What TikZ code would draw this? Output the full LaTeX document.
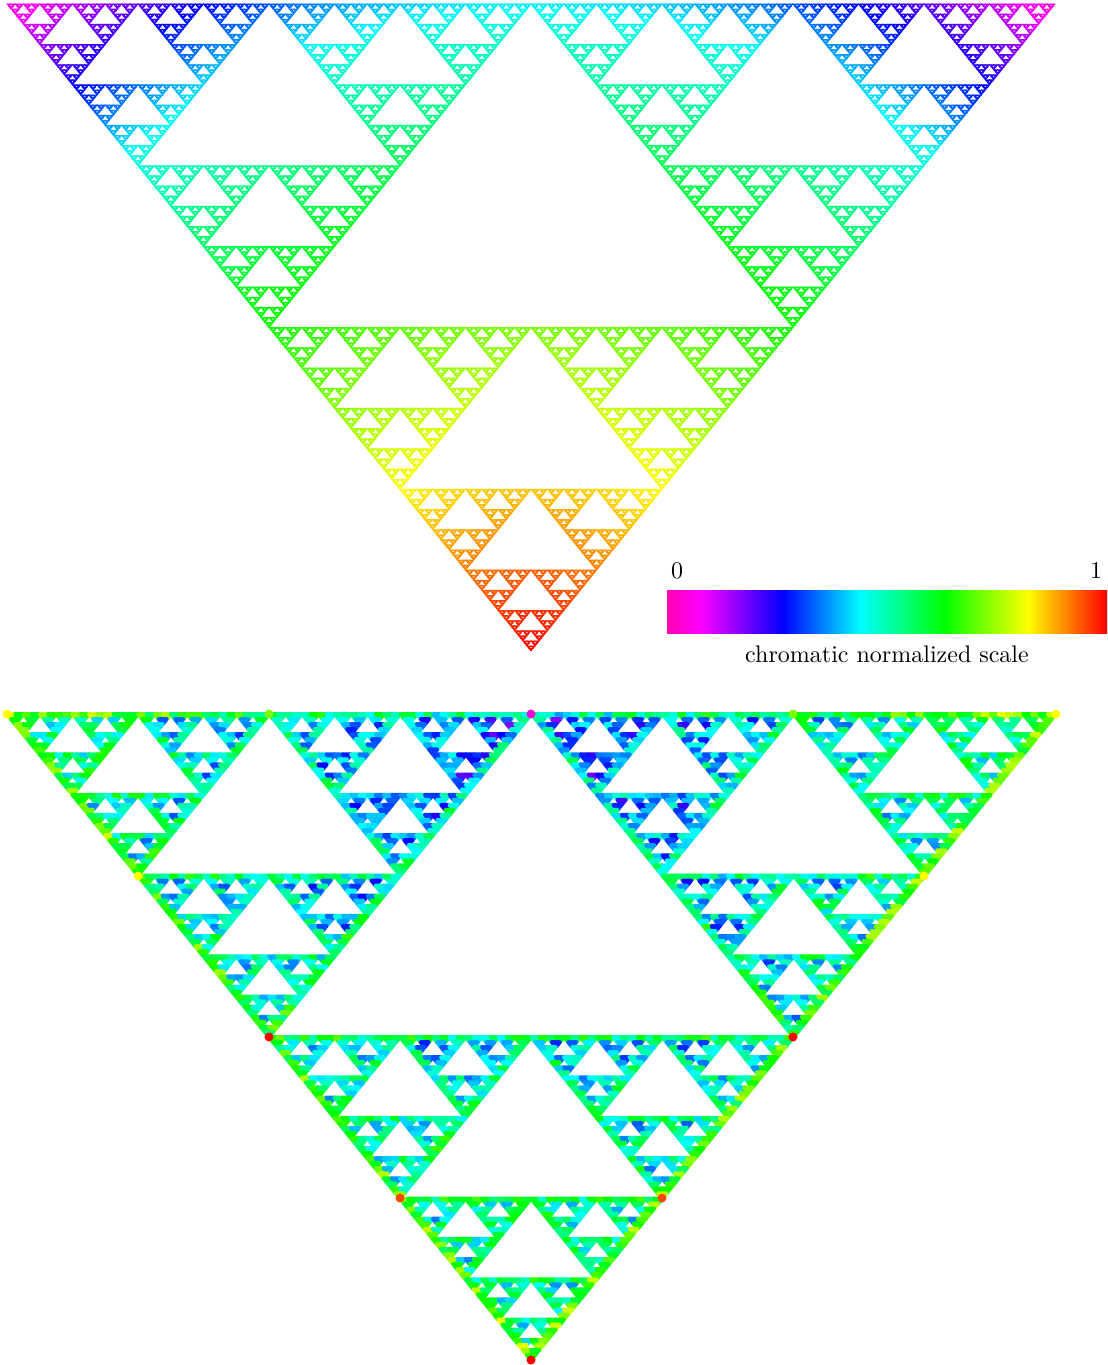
\documentclass[tikz,border=0pt]{standalone}
\usepackage{tikz}
\usetikzlibrary{positioning}
\usepackage{xcolor}

%% chromatic normalized colour map
\definecolor{chpink}{rgb}{1,0,0.7}
\pgfdeclarehorizontalshading{chroma}{100bp}{color(0bp)=(chpink); color(25bp)=(chpink);
  color(28.8bp)=(magenta); color(38.25bp)=(blue); color(47bp)=(cyan);
  color(56.5bp)=(green); color(66bp)=(yellow); color(75bp)=(red); color(100bp)=(red)}

\newcommand\setchroma[1]{%
  \pgfmathsetmacro\chR{max(min(1,max(0,1-(#1-0.076)/0.189)),min(1,max(0,(#1-0.63)/0.19)))}%
  \pgfmathsetmacro\chG{min(min(1,max(0,(#1-0.265)/0.175)),min(1,max(0,(1-#1)/0.18)))}%
  \pgfmathsetmacro\chB{min(min(1,max(0,0.7+0.3*#1/0.076)),min(1,max(0,1-(#1-0.44)/0.19)))}%
  \definecolor{cellcol}{rgb}{\chR,\chG,\chB}}

%% top gasket: one cell, coloured by distance to the lower tip
\newcommand\sierpcell[6]{%
  \pgfmathsetmacro\cx{(#1+#3+#5)/3}%
  \pgfmathsetmacro\cy{(#2+#4+#6)/3}%
  \pgfmathsetmacro\dd{sqrt(((\cx-531)/831)^2+((\cy-651)/831)^2)}%
  \pgfmathsetmacro\vv{\dd<0.25 ? 1-0.72*\dd : (\dd<0.5 ? 0.82-0.72*(\dd-0.25) : (\dd<0.76 ? 0.64-0.69*(\dd-0.5) : max(0,0.46-1.75*(\dd-0.76))))}%
  \setchroma{\vv}%
  \filldraw[cell] (#1,#2) -- (#3,#4) -- (#5,#6) -- cycle
    ({(#1+#3)/2},{(#2+#4)/2}) -- ({(#3+#5)/2},{(#4+#6)/2}) -- ({(#1+#5)/2},{(#2+#6)/2}) -- cycle;}

\newcommand\sierp[7]{%
  \ifnum#1=0 \sierpcell{#2}{#3}{#4}{#5}{#6}{#7}%
  \else
    \begingroup
      \pgfmathsetmacro\mAx{(#2+#4)/2}\pgfmathsetmacro\mAy{(#3+#5)/2}%
      \pgfmathsetmacro\mBx{(#4+#6)/2}\pgfmathsetmacro\mBy{(#5+#7)/2}%
      \pgfmathsetmacro\mCx{(#2+#6)/2}\pgfmathsetmacro\mCy{(#3+#7)/2}%
      \pgfmathtruncatemacro\lv{#1-1}%
      \edef\next{%
        \noexpand\sierp{\lv}{#2}{#3}{\mAx}{\mAy}{\mCx}{\mCy}%
        \noexpand\sierp{\lv}{\mAx}{\mAy}{#4}{#5}{\mBx}{\mBy}%
        \noexpand\sierp{\lv}{\mCx}{\mCy}{\mBx}{\mBy}{#6}{#7}}%
    \expandafter\endgroup\next
  \fi}

%% bottom gasket: solid cells, thickened, one colour per cell
\def\splitlev#1,#2,#3\relax{\def\la{#1}\def\lb{#2}\def\lc{#3}}

\newcommand\gcell[7]{%
  \begingroup
    \splitlev#7\relax
    \pgfmathsetmacro\sgu{((#1+#3+#5)/3-531)/524}%
    \pgfmathsetmacro\sgt{((#2+#4+#6)/3-714)/646}%
    \pgfmathsetmacro\sgv{min(1,max(0,0.23+0.04*(6-min(\la,\lb,\lc))+0.24*min(1,sqrt(\sgu*\sgu+\sgt*\sgt))+0.24*(rnd-0.5)))}%
    \setchroma{\sgv}%
    \filldraw[gcell] (#1,#2) -- (#3,#4) -- (#5,#6) -- cycle;
  \endgroup}

\newcommand\gasket[9]{%
  \ifnum#1=0 \gcell{#2}{#3}{#4}{#5}{#6}{#7}{#8}%
  \else
    \begingroup
      \pgfmathsetmacro\mAx{(#2+#4)/2}\pgfmathsetmacro\mAy{(#3+#5)/2}%
      \pgfmathsetmacro\mBx{(#4+#6)/2}\pgfmathsetmacro\mBy{(#5+#7)/2}%
      \pgfmathsetmacro\mCx{(#2+#6)/2}\pgfmathsetmacro\mCy{(#3+#7)/2}%
      \splitlev#8\relax
      \pgfmathtruncatemacro\lv{#1-1}\pgfmathtruncatemacro\kk{#9+1}%
      \edef\next{%
        \noexpand\gasket{\lv}{#2}{#3}{\mAx}{\mAy}{\mCx}{\mCy}{\la,\kk,\lc}{\kk}%
        \noexpand\gasket{\lv}{\mAx}{\mAy}{#4}{#5}{\mBx}{\mBy}{\la,\lb,\kk}{\kk}%
        \noexpand\gasket{\lv}{\mCx}{\mCy}{\mBx}{\mBy}{#6}{#7}{\kk,\lb,\lc}{\kk}}%
    \expandafter\endgroup\next
  \fi}

\begin{document}
\begin{tikzpicture}[x=0.45pt, y=-0.45pt,
    font=\fontsize{10.8pt}{13pt}\selectfont,
    cell/.style={fill=cellcol, draw=cellcol, line width=0.35pt, even odd rule},
    gcell/.style={fill=cellcol, draw=cellcol, line width=1.8pt, line join=round},
    bar/.style={shading=chroma, minimum width=198pt, minimum height=19.5pt, inner sep=0pt},
    lbl/.style={inner sep=0pt}]
  \useasboundingbox (0,0) rectangle (1107,1365);
  \pgfmathsetseed{7}
  %% Top gasket
  \sierp{7}{7}{4}{1055}{4}{531}{651}
  %% Bottom gasket
  \gasket{7}{7}{714}{1056}{714}{531}{1360}{0,0,0}{0}
  %% Junctions of the bottom gasket
  \foreach \x/\y/\v in {531/714/0.04, 7/714/0.82, 1056/714/0.82, 531/1360/1,
                        269/1037/1, 793/1037/1, 269/714/0.72, 793/714/0.72,
                        138/876/0.82, 924/876/0.82, 400/1198/0.95, 662/1198/0.95}
    {\setchroma{\v}\fill[cellcol] (\x,\y) circle[radius=4.5];}
  %% Colour bar
  \node[bar] (bar) at (887,611.7) {};
  \node[lbl, above right=4.7pt and 1.8pt of bar.north west] (zero) {0};
  \node[lbl, above left=4.7pt and 2.2pt of bar.north east] (one) {1};
  \node[lbl, below=5.4pt of bar] (caption) {chromatic normalized scale};
\end{tikzpicture}
\end{document}
